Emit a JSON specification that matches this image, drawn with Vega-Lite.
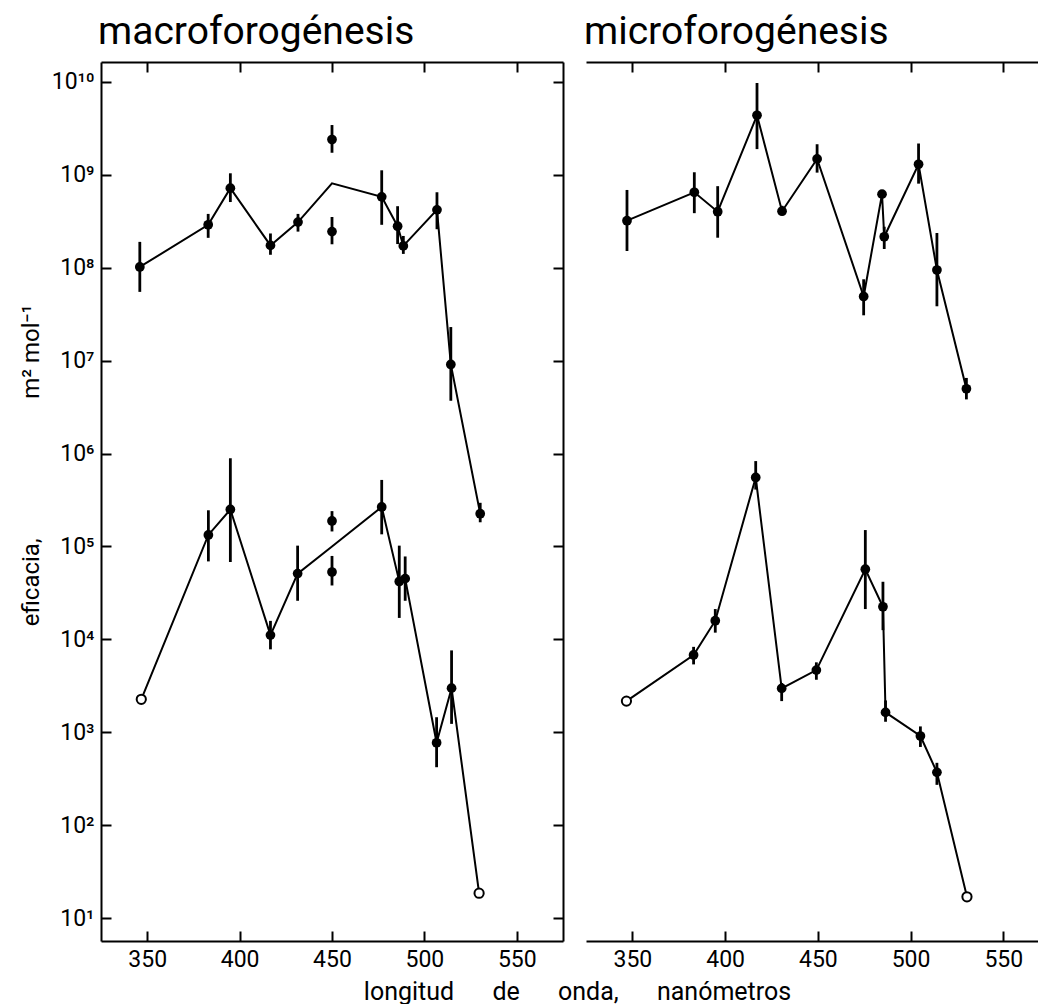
{
  "$schema": "https://vega.github.io/schema/vega-lite/v6.json",
  "padding": {"left": 19, "top": 13, "right": 0, "bottom": 0},
  "background": "white",
  "datasets": {
    "pts": [
      {"p":"L","s":"u","x":346,"y":1.02e8,"lo":5.5e7,"hi":1.9e8,"m":"f","ln":1},
      {"p":"L","s":"u","x":383,"y":2.9e8,"lo":2.1e8,"hi":3.8e8,"m":"f","ln":1},
      {"p":"L","s":"u","x":395,"y":7.2e8,"lo":5.1e8,"hi":1.04e9,"m":"f","ln":1},
      {"p":"L","s":"u","x":416.7,"y":1.74e8,"lo":1.38e8,"hi":2.34e8,"m":"f","ln":1},
      {"p":"L","s":"u","x":431.6,"y":3.1e8,"lo":2.45e8,"hi":3.8e8,"m":"f","ln":1},
      {"p":"L","s":"u","x":450,"y":8.1e8,"m":"n","ln":1},
      {"p":"L","s":"u","x":450,"y":2.4e9,"lo":1.73e9,"hi":3.44e9,"m":"f","ln":0},
      {"p":"L","s":"u","x":450,"y":2.45e8,"lo":1.79e8,"hi":3.52e8,"m":"f","ln":0},
      {"p":"L","s":"u","x":476.9,"y":5.8e8,"lo":2.9e8,"hi":1.12e9,"m":"f","ln":1},
      {"p":"L","s":"u","x":485.5,"y":2.8e8,"lo":1.8e8,"hi":4.6e8,"m":"f","ln":1},
      {"p":"L","s":"u","x":488.6,"y":1.72e8,"lo":1.41e8,"hi":2.2e8,"m":"f","ln":1},
      {"p":"L","s":"u","x":506.8,"y":4.2e8,"lo":2.6e8,"hi":6.5e8,"m":"f","ln":1},
      {"p":"L","s":"u","x":514.3,"y":9.1e6,"lo":3.7e6,"hi":2.3e7,"m":"f","ln":1},
      {"p":"L","s":"u","x":530.2,"y":2.25e5,"lo":1.82e5,"hi":2.95e5,"m":"f","ln":1},

      {"p":"L","s":"l","x":346.8,"y":2.26e3,"m":"o","ln":1},
      {"p":"L","s":"l","x":383.1,"y":1.33e5,"lo":6.9e4,"hi":2.45e5,"m":"f","ln":1},
      {"p":"L","s":"l","x":395,"y":2.5e5,"lo":6.8e4,"hi":8.9e5,"m":"f","ln":1},
      {"p":"L","s":"l","x":416.7,"y":1.11e4,"lo":7.8e3,"hi":1.58e4,"m":"f","ln":1},
      {"p":"L","s":"l","x":431.4,"y":5.1e4,"lo":2.6e4,"hi":1.02e5,"m":"f","ln":1},
      {"p":"L","s":"l","x":450,"y":1.0e5,"m":"n","ln":1},
      {"p":"L","s":"l","x":450,"y":1.88e5,"lo":1.45e5,"hi":2.4e5,"m":"f","ln":0},
      {"p":"L","s":"l","x":450,"y":5.3e4,"lo":3.8e4,"hi":7.9e4,"m":"f","ln":0},
      {"p":"L","s":"l","x":476.9,"y":2.66e5,"lo":1.35e5,"hi":5.2e5,"m":"f","ln":1},
      {"p":"L","s":"l","x":486.4,"y":4.2e4,"lo":1.7e4,"hi":1.02e5,"m":"f","ln":1},
      {"p":"L","s":"l","x":489.6,"y":4.5e4,"lo":2.6e4,"hi":7.8e4,"m":"f","ln":1},
      {"p":"L","s":"l","x":506.6,"y":7.7e2,"lo":4.2e2,"hi":1.45e3,"m":"f","ln":1},
      {"p":"L","s":"l","x":514.7,"y":2.98e3,"lo":1.23e3,"hi":7.6e3,"m":"f","ln":1},
      {"p":"L","s":"l","x":529.6,"y":18.5,"m":"o","ln":1},

      {"p":"R","s":"u","x":347.1,"y":3.32e8,"lo":1.57e8,"hi":7.1e8,"m":"f","ln":1},
      {"p":"R","s":"u","x":383.4,"y":6.7e8,"lo":4.0e8,"hi":1.1e9,"m":"f","ln":1},
      {"p":"R","s":"u","x":396,"y":4.15e8,"lo":2.18e8,"hi":7.8e8,"m":"f","ln":1},
      {"p":"R","s":"u","x":417.2,"y":4.5e9,"lo":1.95e9,"hi":1.0e10,"m":"f","ln":1},
      {"p":"R","s":"u","x":430.7,"y":4.2e8,"lo":3.8e8,"hi":4.8e8,"m":"f","ln":1},
      {"p":"R","s":"u","x":449.6,"y":1.53e9,"lo":1.09e9,"hi":2.2e9,"m":"f","ln":1},
      {"p":"R","s":"u","x":474.7,"y":5.1e7,"lo":3.2e7,"hi":7.8e7,"m":"f","ln":1},
      {"p":"R","s":"u","x":484.6,"y":6.4e8,"m":"f","ln":1},
      {"p":"R","s":"u","x":485.8,"y":2.23e8,"lo":1.65e8,"hi":2.86e8,"m":"f","ln":1},
      {"p":"R","s":"u","x":504.3,"y":1.34e9,"lo":8.3e8,"hi":2.24e9,"m":"f","ln":1},
      {"p":"R","s":"u","x":514.2,"y":9.8e7,"lo":4.0e7,"hi":2.45e8,"m":"f","ln":1},
      {"p":"R","s":"u","x":530.1,"y":5.2e6,"lo":4.0e6,"hi":6.8e6,"m":"f","ln":1},

      {"p":"R","s":"l","x":346.8,"y":2.3e3,"m":"o","ln":1},
      {"p":"R","s":"l","x":383,"y":7.2e3,"lo":5.7e3,"hi":8.8e3,"m":"f","ln":1},
      {"p":"R","s":"l","x":394.7,"y":1.68e4,"lo":1.25e4,"hi":2.24e4,"m":"f","ln":1},
      {"p":"R","s":"l","x":416.5,"y":5.8e5,"lo":4.3e5,"hi":8.7e5,"m":"f","ln":1},
      {"p":"R","s":"l","x":430.5,"y":3.15e3,"lo":2.3e3,"hi":3.6e3,"m":"f","ln":1},
      {"p":"R","s":"l","x":449.2,"y":4.95e3,"lo":3.9e3,"hi":6.0e3,"m":"f","ln":1},
      {"p":"R","s":"l","x":475.6,"y":6.0e4,"lo":2.24e4,"hi":1.58e5,"m":"f","ln":1},
      {"p":"R","s":"l","x":485.1,"y":2.37e4,"lo":1.33e4,"hi":4.4e4,"m":"f","ln":1},
      {"p":"R","s":"l","x":486.5,"y":1.74e3,"lo":1.38e3,"hi":2.34e3,"m":"f","ln":1},
      {"p":"R","s":"l","x":505.3,"y":9.7e2,"lo":7.4e2,"hi":1.23e3,"m":"f","ln":1},
      {"p":"R","s":"l","x":514.2,"y":3.95e2,"lo":2.9e2,"hi":5.0e2,"m":"f","ln":1},
      {"p":"R","s":"l","x":530.4,"y":18.2,"m":"o","ln":1}
    ]
  },
  "data": {"name": "pts"},
  "spacing": 23,
  "bounds": "flush",
  "hconcat": [
    {
      "width": 462,
      "height": 879,
      "title": {"text": "macroforogénesis", "anchor": "start", "frame": "group", "baseline": "alphabetic", "offset": -22, "fontSize": 39, "fontWeight": "normal", "font": "Roboto", "color": "black", "dx": -3},
      "transform": [{"filter": "datum.p === 'L'"}],
      "layer": [
        {
          "transform": [{"filter": "isValid(datum.lo)"}],
          "mark": {"type": "rule", "strokeWidth": 2.8, "color": "black"},
          "encoding": {
            "x": {"field": "x", "type": "quantitative", "scale": {"domain": [325, 575], "nice": false, "zero": false},
                  "axis": {"orient": "bottom", "values": [350, 400, 450, 500, 550], "tickSize": -10, "labelPadding": 17, "labelFontSize": 23, "title": "longitud\u2003\u2002de\u2003\u2002onda,\u2003\u2002nanómetros", "titleFontSize": 25, "titleFontWeight": "normal", "titleX": 476, "titleY": 58, "titleAlign": "center", "titleBaseline": "alphabetic"}},
            "y": {"field": "lo", "type": "quantitative", "scale": {"type": "log", "domain": [5.655, 1.641e10], "nice": false},
                  "axis": {"orient": "left", "values": [10, 100, 1000, 10000, 100000, 1000000, 10000000, 100000000, 1000000000, 10000000000], "tickSize": -10, "labelPadding": 17, "labelFontSize": 23, "labelExpr": "'10' + ['⁰','¹','²','³','⁴','⁵','⁶','⁷','⁸','⁹','¹⁰'][round(log(datum.value)/LN10)]", "title": "eficacia,\u2003\u2003\u2003\u2003\u2002\u2002\u2002\u2009m² mol⁻¹", "titleFontSize": 24, "titleFontWeight": "normal", "titleX": -70, "titleY": 403, "titleAlign": "center", "titleBaseline": "middle", "titleAngle": -90}},
            "y2": {"field": "hi"}
          }
        },
        {
          "transform": [{"filter": "datum.ln === 1"}],
          "mark": {"type": "line", "strokeWidth": 2, "color": "black"},
          "encoding": {
            "x": {"field": "x", "type": "quantitative", "axis": {"orient": "top", "values": [350, 400, 450, 500, 550], "tickSize": -10, "labels": false, "title": null}},
            "y": {"field": "y", "type": "quantitative", "axis": {"orient": "right", "values": [10, 100, 1000, 10000, 100000, 1000000, 10000000, 100000000, 1000000000, 10000000000], "tickSize": -10, "labels": false, "title": null}},
            "detail": {"field": "s"},
            "order": {"field": "x", "type": "quantitative"}
          }
        },
        {
          "transform": [{"filter": "datum.m === 'f'"}],
          "mark": {"type": "point", "shape": "circle", "filled": true, "size": 95, "color": "black", "opacity": 1},
          "encoding": {
            "x": {"field": "x", "type": "quantitative", "axis": null},
            "y": {"field": "y", "type": "quantitative", "axis": null}
          }
        },
        {
          "transform": [{"filter": "datum.m === 'o'"}],
          "mark": {"type": "point", "shape": "circle", "filled": false, "fill": "white", "size": 85, "stroke": "black", "strokeWidth": 2, "opacity": 1},
          "encoding": {
            "x": {"field": "x", "type": "quantitative", "axis": null},
            "y": {"field": "y", "type": "quantitative", "axis": null}
          }
        }
      ]
    },
    {
      "width": 452,
      "height": 879,
      "title": {"text": "microforogénesis", "anchor": "start", "frame": "group", "baseline": "alphabetic", "offset": -22, "fontSize": 39, "fontWeight": "normal", "font": "Roboto", "color": "black", "dx": -2},
      "transform": [{"filter": "datum.p === 'R'"}],
      "layer": [
        {
          "transform": [{"filter": "isValid(datum.lo)"}],
          "mark": {"type": "rule", "strokeWidth": 2.8, "color": "black"},
          "encoding": {
            "x": {"field": "x", "type": "quantitative", "scale": {"domain": [325, 568.7], "nice": false, "zero": false},
                  "axis": {"orient": "bottom", "values": [350, 400, 450, 500, 550], "tickSize": -10, "labelPadding": 17, "labelFontSize": 23, "title": null}},
            "y": {"field": "lo", "type": "quantitative", "scale": {"type": "log", "domain": [6.1, 1.681e10], "nice": false},
                  "axis": {"orient": "left", "values": [10, 100, 1000, 10000, 100000, 1000000, 10000000, 100000000, 1000000000, 10000000000], "tickSize": -10, "labels": false, "title": null}},
            "y2": {"field": "hi"}
          }
        },
        {
          "transform": [{"filter": "datum.ln === 1"}],
          "mark": {"type": "line", "strokeWidth": 2, "color": "black"},
          "encoding": {
            "x": {"field": "x", "type": "quantitative", "axis": {"orient": "top", "values": [350, 400, 450, 500, 550], "tickSize": -10, "labels": false, "title": null}},
            "y": {"field": "y", "type": "quantitative", "axis": null},
            "detail": {"field": "s"},
            "order": {"field": "x", "type": "quantitative"}
          }
        },
        {
          "transform": [{"filter": "datum.m === 'f'"}],
          "mark": {"type": "point", "shape": "circle", "filled": true, "size": 95, "color": "black", "opacity": 1},
          "encoding": {
            "x": {"field": "x", "type": "quantitative", "axis": null},
            "y": {"field": "y", "type": "quantitative", "axis": null}
          }
        },
        {
          "transform": [{"filter": "datum.m === 'o'"}],
          "mark": {"type": "point", "shape": "circle", "filled": false, "fill": "white", "size": 85, "stroke": "black", "strokeWidth": 2, "opacity": 1},
          "encoding": {
            "x": {"field": "x", "type": "quantitative", "axis": null},
            "y": {"field": "y", "type": "quantitative", "axis": null}
          }
        }
      ]
    }
  ],
  "config": {
    "view": {"stroke": null},
    "axis": {
      "grid": false,
      "domainColor": "black", "domainWidth": 2,
      "tickColor": "black", "tickWidth": 2,
      "labelColor": "black", "titleColor": "black",
      "labelFont": "Roboto",
      "titleFont": "Roboto"
    }
  }
}
